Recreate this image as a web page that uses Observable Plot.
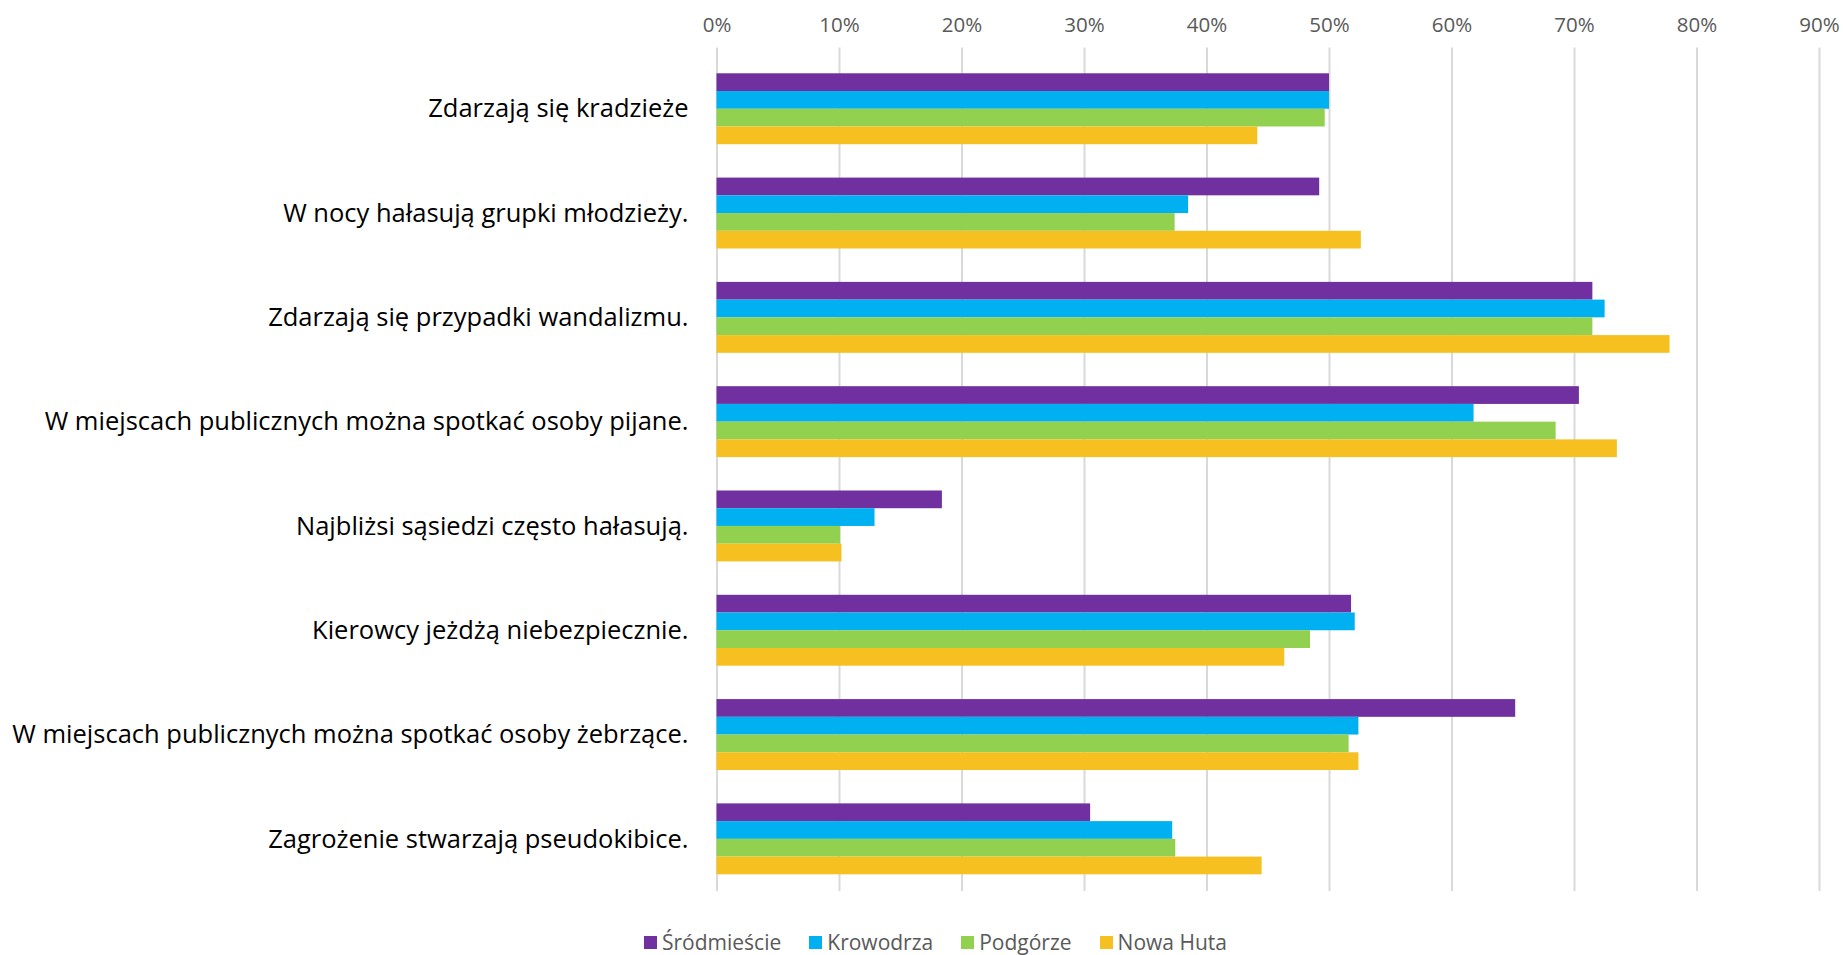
<!DOCTYPE html>
<html>
<head>
<meta charset="utf-8">
<script src="https://cdn.jsdelivr.net/npm/d3@7"></script>
<script src="https://cdn.jsdelivr.net/npm/@observablehq/plot@0.6"></script>
<style>
  html, body { margin: 0; padding: 0; background: #fff; }
  #wrap { position: relative; width: 1843px; height: 955px; overflow: hidden; }
  #chart svg { display: block; }
  #legend { position: absolute; top: 932px; left: 644px; display: flex; align-items: center;
            font-family: 'Open Sans', sans-serif; font-size: 21px; color: #595959; line-height: 20px; }
  #legend .item { display: flex; align-items: center; margin-right: 28px; }
  #legend .sw { width: 13px; height: 13px; margin-right: 5px; }
</style>
</head>
<body>
<div id="wrap">
  <div id="chart"></div>
  <div id="legend"></div>
</div>
<script>
const categories = [
  "Zdarzają się kradzieże",
  "W nocy hałasują grupki młodzieży.",
  "Zdarzają się przypadki wandalizmu.",
  "W miejscach publicznych można spotkać osoby pijane.",
  "Najbliżsi sąsiedzi często hałasują.",
  "Kierowcy jeżdżą niebezpiecznie.",
  "W miejscach publicznych można spotkać osoby żebrzące.",
  "Zagrożenie stwarzają pseudokibice."
];
const seriesNames = ["Śródmieście", "Krowodrza", "Podgórze", "Nowa Huta"];
const srodmiescie = [50.0, 49.2, 71.5, 70.4, 18.4, 51.8, 65.2, 30.5];
const krowodrza   = [50.0, 38.5, 72.5, 61.8, 12.9, 52.1, 52.4, 37.2];
const podgorze    = [49.65, 37.4, 71.5, 68.5, 10.1, 48.45, 51.6, 37.45];
const nowaHuta    = [44.15, 52.6, 77.8, 73.5, 10.2, 46.35, 52.4, 44.5];
const seriesColors = ["#7030A0", "#00B0F0", "#92D050", "#F6C120"];
const xTicks = [0, 10, 20, 30, 40, 50, 60, 70, 80, 90];
const xTickLabels = ["0%", "10%", "20%", "30%", "40%", "50%", "60%", "70%", "80%", "90%"];

const seriesValues = [srodmiescie, krowodrza, podgorze, nowaHuta];
const rows = [];
seriesNames.forEach((s, si) => categories.forEach((c, ci) => rows.push({series: s, si, category: c, value: seriesValues[si][ci]})));

const W = 1843, H = 900, MT = 56.6, MB = 9, ML = 716.5, MR = 24;
const PI = 0.32, PO = 0.16;
const yScale = Plot.scale({y: {type: "band", domain: categories, range: [MT, H - MB], paddingInner: PI, paddingOuter: PO, round: false}});
const barH = yScale.bandwidth / seriesNames.length;

const barMarks = seriesNames.map((s, si) => Plot.barX(rows.filter(r => r.si === si), {
  x: "value", y: "category", fill: seriesColors[si],
  insetTop: si * barH, insetBottom: (seriesNames.length - 1 - si) * barH
}));

const chart = Plot.plot({
  width: W, height: H,
  marginTop: MT, marginBottom: MB, marginLeft: ML, marginRight: MR,
  style: {fontFamily: "'Open Sans', sans-serif", background: "#fff"},
  x: {domain: [0, 90]},
  y: {domain: categories, paddingInner: PI, paddingOuter: PO, round: false},
  marks: [
    Plot.gridX(xTicks, {stroke: "#D9D9D9", strokeOpacity: 1, strokeWidth: 2, insetTop: -9}),
    ...barMarks,
    Plot.axisX(xTicks, {anchor: "top", tickSize: 0, tickPadding: 25, fontSize: 20.5, fill: "#595959",
      tickFormat: d => xTickLabels[xTicks.indexOf(d)], label: null}),
    Plot.axisY({tickSize: 0, tickPadding: 28.5, fontSize: 25.5, fill: "#000", label: null})
  ]
});
document.getElementById("chart").appendChild(chart);

const legend = document.getElementById("legend");
seriesNames.forEach((s, i) => {
  const item = document.createElement("div");
  item.className = "item";
  const sw = document.createElement("div");
  sw.className = "sw";
  sw.style.background = seriesColors[i];
  const t = document.createElement("span");
  t.textContent = s;
  item.appendChild(sw); item.appendChild(t);
  legend.appendChild(item);
});
</script>
</body>
</html>
